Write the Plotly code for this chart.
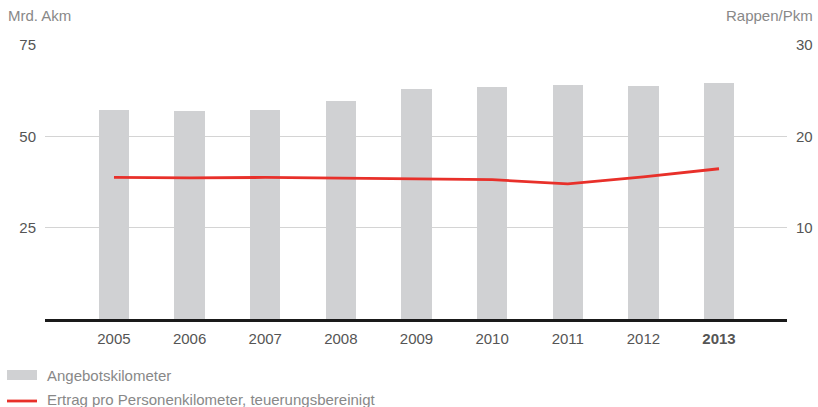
import plotly.graph_objects as go

years = ["2005", "2006", "2007", "2008", "2009", "2010", "2011", "2012", "2013"]
tick_labels = ["2005", "2006", "2007", "2008", "2009", "2010", "2011", "2012", "<b>2013</b>"]
angebot_km = [57.3, 57.0, 57.3, 59.8, 63.0, 63.6, 64.1, 63.9, 64.7]
ertrag_pkm = [15.5, 15.45, 15.5, 15.45, 15.35, 15.25, 14.8, 15.55, 16.45]
left_ticks = [25, 50, 75]
right_ticks = [10, 20, 30]

FONT = "Liberation Sans, Arial, sans-serif"
BAR_COLOR = "#d0d1d3"
LINE_COLOR = "#e8302a"

fig = go.Figure()
fig.add_trace(go.Bar(
    x=years, y=angebot_km, width=0.4, marker_color=BAR_COLOR,
    marker_line_width=0, name="Angebotskilometer", showlegend=False,
))
fig.add_trace(go.Scatter(
    x=years, y=ertrag_pkm, mode="lines", yaxis="y2",
    line=dict(color=LINE_COLOR, width=2.8),
    name="Ertrag pro Personenkilometer, teuerungsbereinigt", showlegend=False,
))

W, H = 818, 407
L, R, T, B = 45, 31, 45, 88
pw, ph = W - L - R, H - T - B

def px(x):
    return (x - L) / pw

def py(y):
    return (H - B - y) / ph

fig.update_layout(
    width=W, height=H,
    margin=dict(l=L, r=R, t=T, b=B, autoexpand=False),
    plot_bgcolor="white", paper_bgcolor="white",
    font=dict(family=FONT, size=15, color="#555555"),
    showlegend=False,
    xaxis=dict(
        type="category", range=[-0.912, 8.899],
        tickvals=years, ticktext=tick_labels,
        showgrid=False, showline=True, linecolor="#1a1a1a", linewidth=2.5,
        ticks="", tickfont=dict(size=15, color="#555555"),
        ticklabelstandoff=4, automargin=False,
    ),
    yaxis=dict(
        range=[0, 75], tickvals=left_ticks, showgrid=True,
        gridcolor="#d4d4d4", gridwidth=1.3, zeroline=False,
        ticks="", tickfont=dict(size=15, color="#555555"),
        ticklabelstandoff=8, automargin=False,
    ),
    yaxis2=dict(
        range=[0, 30], tickvals=right_ticks, overlaying="y", side="right",
        showgrid=False, zeroline=False, ticks="",
        tickfont=dict(size=15, color="#555555"),
        ticklabelstandoff=8, automargin=False,
    ),
    bargap=0,
)

shapes = [
    dict(type="rect", xref="paper", yref="paper",
         x0=px(7), x1=px(37), y0=py(370), y1=py(380),
         fillcolor=BAR_COLOR, line_width=0),
    dict(type="line", xref="paper", yref="paper",
         x0=px(7), x1=px(37), y0=py(401), y1=py(401),
         line=dict(color=LINE_COLOR, width=2.8)),
]
annotations = [
    dict(text="Angebotskilometer", xref="paper", yref="paper",
         x=px(45), y=py(375), xanchor="left", yanchor="middle",
         showarrow=False, font=dict(size=15, color="#888888")),
    dict(text="Ertrag pro Personenkilometer, teuerungsbereinigt", xref="paper", yref="paper",
         x=px(45), y=py(399), xanchor="left", yanchor="middle",
         showarrow=False, font=dict(size=15, color="#888888")),
    dict(text="Mrd. Akm", xref="paper", yref="paper",
         x=px(6), y=py(15), xanchor="left", yanchor="middle",
         showarrow=False, font=dict(size=15, color="#888888")),
    dict(text="Rappen/Pkm", xref="paper", yref="paper",
         x=px(815), y=py(15), xanchor="right", yanchor="middle",
         showarrow=False, font=dict(size=15, color="#888888")),
]
fig.update_layout(shapes=shapes, annotations=annotations)

fig.write_html(
    "out.html",
    config={"displayModeBar": False},
    post_script="document.body.style.margin='0';document.body.style.overflow='hidden';",
)
